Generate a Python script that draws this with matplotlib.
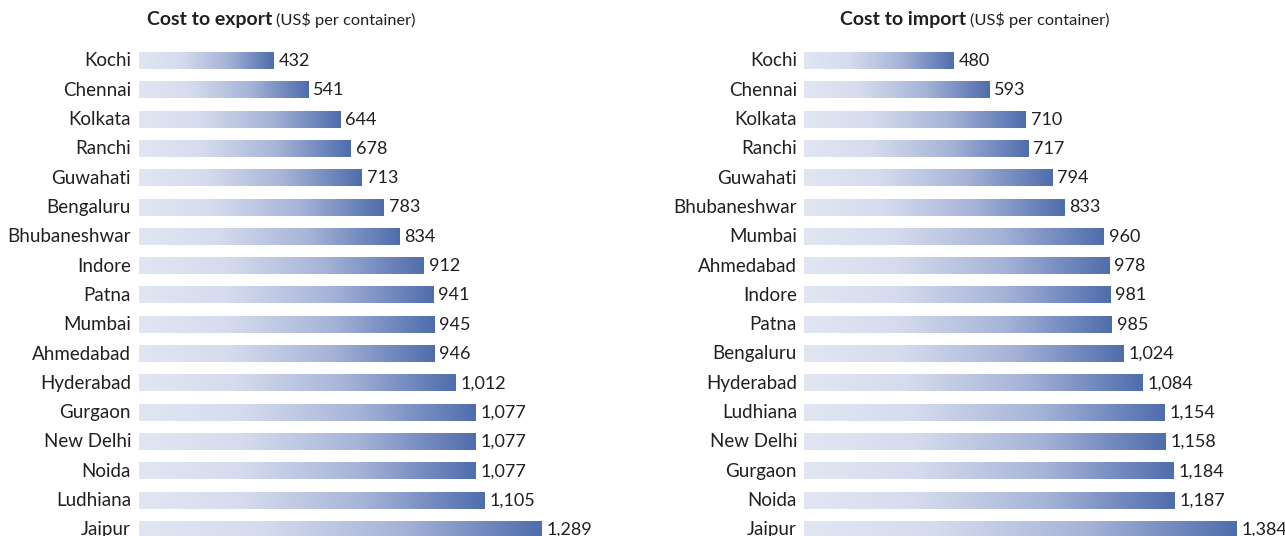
import matplotlib
matplotlib.use("Agg")
import matplotlib.pyplot as plt
import numpy as np
from matplotlib.colors import LinearSegmentedColormap

export_cities = ["Kochi", "Chennai", "Kolkata", "Ranchi", "Guwahati", "Bengaluru",
                 "Bhubaneshwar", "Indore", "Patna", "Mumbai", "Ahmedabad", "Hyderabad",
                 "Gurgaon", "New Delhi", "Noida", "Ludhiana", "Jaipur"]
export_values = [432, 541, 644, 678, 713, 783, 834, 912, 941, 945, 946, 1012,
                 1077, 1077, 1077, 1105, 1289]

import_cities = ["Kochi", "Chennai", "Kolkata", "Ranchi", "Guwahati", "Bhubaneshwar",
                 "Mumbai", "Ahmedabad", "Indore", "Patna", "Bengaluru", "Hyderabad",
                 "Ludhiana", "New Delhi", "Gurgaon", "Noida", "Jaipur"]
import_values = [480, 593, 710, 717, 794, 833, 960, 978, 981, 985, 1024, 1084,
                 1154, 1158, 1184, 1187, 1384]

FONT = "Lato"
plt.rcParams['font.family'] = [FONT, 'DejaVu Sans']

W, H = 1285, 536
fig = plt.figure(figsize=(W / 100, H / 100), dpi=100)

cmap = LinearSegmentedColormap.from_list(
    "grad", [(0.0, "#e1e6f2"), (0.3, "#d6dcee"), (0.65, "#a7b4d8"), (1.0, "#4f6dad")])
grad = np.linspace(0, 1, 256).reshape(1, -1)

scale = 0.3125  # px per unit
row_px = 29.3
top_row_y = 61.0
n = len(export_cities)


def make_axes(x0_px, xmax):
    width_px = xmax * scale
    top_px = top_row_y - row_px / 2
    height_px = n * row_px
    bottom_px = top_px + height_px
    ax = fig.add_axes([x0_px / W, (H - bottom_px) / H, width_px / W, height_px / H])
    ax.set_xlim(0, xmax)
    ax.set_ylim(n - 0.5, -0.5)
    ax.axis("off")
    return ax


def draw(ax, cities, values, label_x_px, x0_px):
    bh = 0.55
    for i, (c, v) in enumerate(zip(cities, values)):
        ax.imshow(grad, cmap=cmap, aspect="auto", interpolation="bilinear",
                  extent=[0, v, i + bh / 2, i - bh / 2], zorder=2)
        ax.annotate(f"{v:,}", xy=(v, i), xytext=(3.5, 0), textcoords="offset points",
                    ha="left", va="center", fontsize=13, color="#231f20")
        ax.annotate(c, xy=(0, i), xytext=(-(x0_px - label_x_px) * 0.72, 0),
                    textcoords="offset points", ha="right", va="center",
                    fontsize=13.5, color="#231f20")
    ax.set_xlim(ax.get_xlim())
    ax.set_ylim(n - 0.5, -0.5)


ax1 = make_axes(139, 1400)
draw(ax1, export_cities, export_values, 131, 139)
ax2 = make_axes(804, 1500)
draw(ax2, import_cities, import_values, 797, 804)

fig.canvas.draw()
renderer = fig.canvas.get_renderer()


def title(x_px, bold, rest):
    y = 1 - 20 / H
    t = fig.text(x_px / W, y, bold, fontsize=14, fontweight="bold", ha="left",
                 va="center", color="#231f20")
    bb = t.get_window_extent(renderer)
    fig.text((bb.x1 + 4) / W, y, rest, fontsize=11.8, ha="left", va="center",
             color="#231f20")


title(147, "Cost to export", "(US$ per container)")
title(840, "Cost to import", "(US$ per container)")

fig.savefig("out.png", dpi=100)
